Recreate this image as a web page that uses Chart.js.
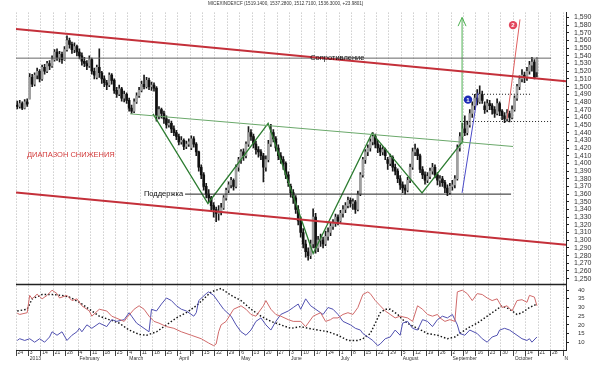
<!DOCTYPE html>
<html>
<head>
<meta charset="utf-8">
<script src="https://cdn.jsdelivr.net/npm/chart.js@4"></script>
<style>
  html, body { margin: 0; padding: 0; background: #fff; }
  canvas { display: block; }
</style>
</head>
<body>
<canvas id="chart" width="600" height="368"></canvas>
<script>
// MICEX index, daily candles: [open, high, low, close]
const ohlc = [
  [1476,1481,1471,1474],[1474,1482,1472,1478],[1478,1480,1470,1472],[1472,1483,1471,1480],[1480,1484,1474,1477],
  [1484,1517,1484,1512],[1512,1516,1500,1503],[1503,1518,1501,1515],[1515,1524,1510,1520],[1520,1522,1506,1510],
  [1510,1528,1508,1525],[1525,1529,1516,1520],[1520,1533,1518,1530],[1530,1534,1522,1527],[1527,1540,1525,1535],
  [1535,1548,1533,1545],[1545,1549,1534,1538],[1538,1546,1532,1542],[1542,1545,1530,1535],[1535,1552,1534,1548],
  [1548,1566,1546,1560],[1560,1563,1550,1555],[1555,1558,1543,1548],[1548,1557,1544,1552],[1552,1554,1540,1545],
  [1545,1549,1536,1540],[1540,1544,1528,1533],[1533,1538,1526,1530],[1530,1534,1522,1527],[1527,1540,1525,1535],
  [1535,1537,1516,1520],[1520,1524,1510,1515],[1512,1528,1510,1525],[1525,1549,1512,1518],
  [1518,1520,1504,1510],[1510,1514,1500,1505],[1505,1508,1496,1502],[1502,1518,1500,1515],[1515,1517,1503,1508],
  [1508,1510,1491,1495],[1495,1499,1486,1490],[1490,1502,1488,1497],[1497,1499,1481,1485],[1485,1494,1480,1490],
  [1490,1492,1478,1482],[1482,1485,1468,1472],[1472,1476,1465,1468],[1468,1484,1466,1480],[1480,1492,1478,1488],
  [1488,1499,1486,1495],[1495,1507,1493,1503],[1503,1515,1497,1500],[1500,1512,1498,1508],[1508,1511,1496,1500],
  [1500,1506,1495,1502],[1502,1505,1494,1498],[1498,1500,1455,1462],[1462,1474,1458,1470],[1470,1472,1459,1465],
  [1465,1468,1452,1458],[1458,1462,1446,1450],[1450,1457,1447,1452],[1452,1455,1440,1445],[1445,1449,1436,1440],
  [1440,1443,1431,1435],[1435,1438,1424,1428],[1428,1435,1425,1430],[1430,1432,1418,1422],[1422,1429,1419,1425],
  [1425,1432,1422,1428],[1420,1436,1418,1432],[1432,1435,1421,1425],[1425,1427,1410,1415],
  [1415,1416,1390,1395],[1395,1398,1380,1385],[1385,1388,1365,1370],[1370,1374,1355,1360],[1360,1366,1350,1355],
  [1355,1357,1338,1345],[1345,1349,1330,1340],[1340,1343,1324,1335],[1335,1345,1326,1338],[1338,1348,1333,1342],
  [1342,1358,1340,1355],[1355,1368,1352,1365],[1365,1376,1362,1372],[1372,1382,1368,1378],[1378,1380,1365,1370],
  [1370,1398,1368,1395],[1395,1408,1390,1405],[1405,1418,1400,1415],[1415,1419,1404,1410],[1410,1428,1407,1425],
  [1425,1448,1422,1440],[1440,1444,1430,1435],[1435,1438,1420,1425],[1425,1429,1412,1418],[1418,1422,1408,1415],
  [1415,1418,1405,1410],[1410,1413,1376,1395],[1395,1410,1390,1405],[1405,1430,1402,1425],[1425,1451,1422,1440],
  [1440,1444,1428,1432],[1432,1435,1416,1420],[1420,1424,1405,1410],[1410,1414,1400,1405],[1405,1409,1392,1400],
  [1400,1402,1380,1385],[1385,1389,1370,1375],[1370,1373,1356,1362],[1362,1366,1348,1355],
  [1355,1358,1335,1340],[1340,1345,1320,1325],[1325,1330,1304,1310],[1310,1315,1290,1295],[1295,1300,1278,1285],
  [1285,1290,1274,1280],[1280,1300,1276,1295],[1295,1341,1290,1330],[1330,1335,1283,1290],[1290,1305,1285,1300],
  [1300,1308,1292,1300],[1300,1304,1290,1295],[1295,1312,1293,1305],[1305,1316,1300,1310],[1310,1322,1306,1318],
  [1318,1327,1314,1322],[1322,1334,1318,1330],[1330,1333,1320,1325],[1325,1339,1323,1335],[1335,1345,1330,1340],
  [1340,1349,1336,1345],[1345,1356,1342,1352],[1352,1355,1343,1348],[1348,1354,1340,1350],[1350,1352,1335,1340],
  [1340,1364,1338,1360],[1360,1388,1358,1385],[1385,1408,1382,1405],[1405,1418,1400,1415],[1415,1424,1410,1420],
  [1420,1432,1416,1428],[1428,1440,1424,1435],[1435,1438,1420,1425],[1425,1430,1414,1420],[1420,1424,1410,1415],
  [1415,1422,1411,1418],[1418,1420,1405,1410],[1405,1408,1392,1400],[1400,1412,1397,1408],
  [1408,1410,1390,1395],[1395,1399,1385,1390],[1390,1393,1375,1380],[1380,1384,1366,1372],[1372,1376,1362,1368],
  [1368,1372,1360,1365],[1365,1382,1363,1378],[1378,1399,1375,1395],[1395,1420,1392,1415],[1415,1425,1410,1418],
  [1418,1420,1405,1410],[1410,1412,1388,1392],[1392,1396,1380,1385],[1385,1389,1373,1378],[1378,1388,1375,1383],
  [1383,1394,1380,1390],[1390,1400,1386,1395],[1395,1398,1381,1385],[1385,1388,1372,1378],[1378,1384,1370,1380],
  [1380,1383,1370,1375],[1375,1378,1362,1368],[1368,1372,1358,1362],[1362,1374,1360,1370],[1370,1378,1365,1372],
  [1372,1384,1368,1380],[1380,1424,1378,1420],[1420,1440,1416,1435],[1435,1452,1430,1445],[1445,1462,1436,1440],
  [1440,1455,1437,1450],[1450,1470,1447,1465],[1465,1480,1460,1475],[1475,1490,1470,1485],[1485,1496,1476,1480],
  [1480,1501,1478,1490],[1490,1494,1478,1482],[1475,1480,1465,1470],[1470,1483,1467,1478],
  [1478,1482,1470,1475],[1475,1478,1464,1470],[1470,1474,1460,1465],[1465,1484,1463,1478],[1478,1480,1462,1468],
  [1468,1470,1457,1462],[1462,1466,1453,1458],[1458,1470,1455,1465],[1465,1468,1454,1460],[1460,1475,1458,1470],
  [1470,1488,1468,1485],[1485,1503,1482,1500],[1500,1514,1496,1510],[1510,1522,1506,1515],[1515,1519,1505,1512],
  [1512,1525,1508,1520],[1520,1533,1516,1528],[1528,1538,1520,1532],[1532,1535,1510,1512],[1519.14,1537.28,1512.71,1536.30]
];

// weekly axis labels (first trading day of each week), month names under them
const weekLabels = ['24','3','14','21','28','4','11','18','25','4','11','18','25','1','8','15','22','29','6','13',
  '20','27','3','10','17','24','1','8','15','22','29','5','12','19','26','2','9','16','23','30','7','14','21','28',''];
const monthLabels = {1:'2013', 5:'February', 9:'March', 13:'April', 18:'May', 22:'June', 26:'July',
  31:'August', 35:'September', 40:'October', 44:'N'};

// DMI indicator, [trading day, value]
const diPlus = [[0,26.7],[1,26],[4,27],[5,37],[6,35],[8,37.7],[10,35],[12,37],[14,40],[16,38],[17,35.5],[20,37],
  [22,34],[24,35],[26,31],[29,28],[30,25],[33,29],[36,28],[38,25],[43,22],[44,24],[47,29],[49,31],[51,29],[53,25],
  [55,22],[57,21],[60,19],[63,18],[66,16],[70,14],[74,12],[77,9.5],[79,8],[80,9],[81,16],[82,20],[84,22],[87,29],
  [90,31],[92,29],[94,26],[96,25],[99,31],[100,34],[102,29],[104,26],[106,25],[109,23],[111,22],[114,22],[116,19],
  [117,21],[119,25],[122,27],[124,22],[126,23],[127,24],[129,24],[131,26],[133,27],[135,26],[137,30],[139,37.5],
  [141,39],[142,38],[144,34],[146,31],[148,28],[150,26],[152,24],[154,25],[157,24],[159,22],[161,31],[163,29],
  [165,26],[167,25],[169,26],[170,24],[172,22],[174,23],[176,22],[177,39],[179,40],[181,38],[183,34],[185,38],
  [187,37.5],[189,35.5],[191,34],[193,35],[195,30],[197,31],[199,28],[201,34],[203,34.5],[205,33],[206,37],
  [208,36],[209,31]];
const diMinus = [[0,11],[1,12],[3,11],[5,12],[7,10],[9,12],[11,10],[13,13],[14,16],[16,14],[18,16],[20,11],[22,14],
  [24,16],[25,18],[26,16],[28,20],[30,18],[33,21],[36,19],[38,23],[40,22],[43,23],[45,27],[46,25],[48,21],[51,18],
  [53,16],[54,29],[56,28],[58,32],[60,35.5],[62,34],[64,31],[66,29],[68,28],[71,25],[72,27],[73,34],[76,38],[77,39],
  [79,37],[81,33],[83,29],[86,25],[88,20],[90,16],[92,14],[94,17],[96,22],[98,24],[100,20],[102,17],[104,22],
  [106,26],[109,28],[111,30],[113,32],[114,29],[116,35],[118,31],[121,28],[123,26],[125,30],[127,29],[129,26],
  [131,22],[134,20],[136,18],[138,17],[139,15],[141,13],[143,11],[145,8],[146,9],[148,12],[150,13],[152,17],
  [154,14],[155,21],[157,22],[159,18],[161,17],[163,23],[165,22],[167,19],[169,23],[171,25],[173,24],[175,26],
  [177,20],[178,15],[180,14],[182,17],[185,15],[187,12],[189,10],[191,13],[193,14],[194,17],[196,18],[198,17],
  [201,14],[203,12],[205,11],[206,12],[207,10],[209,13]];
const adx = [[0,28],[4,29],[6,35],[10,37.5],[14,37.5],[18,37],[21,36],[25,33],[29,29],[33,25],[37,23],[41,21],
  [45,17],[49,14.5],[52,14],[56,16],[60,20],[64,24],[68,27],[72,31],[75,35],[78,39],[82,41],[86,37],[90,34],[94,29],
  [98,25],[102,22],[106,20],[110,18],[114,19],[117,18],[121,17],[125,16],[129,14],[133,11],[137,11],[139,12],
  [142,15],[144,21],[146,27],[148,29],[150,29],[153,26],[155,23],[158,20],[161,18],[165,15],[169,14],[173,12],
  [176,13],[178,15],[181,18],[185,21],[189,25],[193,29],[195,31],[198,29],[201,26],[203,27],[206,30],[209,32]];

// drawn analysis lines, [trading day, price]
const upperChannel = [[-0.5,1575],[220.7,1507]];
const lowerChannel = [[-0.5,1362],[220.7,1294]];
const resistance = [[-0.5,1537],[214.7,1537]];
const support = [[67.5,1360],[198.6,1360]];
const neckline = [[45.4,1464.5],[199.4,1422]];
const zigzag = [[54.6,1464.5],[76.7,1347.8],[100.9,1452],[119,1282.6],[142.7,1439.4],[162.8,1361.6],[179.3,1429.3]];
const targetArrow = [[178.9,1425],[178.9,1590]];
const arrowHead = [[177.3,1578.7],[178.9,1590],[180.5,1578.7]];
const blueTrend = [[178.9,1361.6],[185.3,1492]];
const redTrend = [[197,1458],[202.2,1587.5]];
const rangeTop = [[182.9,1490],[206.3,1490]];
const rangeBottom = [[178.1,1454.5],[214.7,1454.5]];

const title = 'MICEXINDEXCF (1519.1400, 1537.2800, 1512.7100, 1536.3000, +23.9801)';
const notes = [
  {text: 'ДИАПАЗОН СНИЖЕНИЯ', day: 3.9, price: 1410.6, color: '#d23a3a', align: 'left'},
  {text: 'Поддержка', day: 66.7, price: 1360, color: '#111', align: 'right'},
  {text: 'Сопротивление', day: 117.8, price: 1537, color: '#111', align: 'left'}
];
const markers = [
  {text: '1', day: 181.3, price: 1483, color: '#1c2bb4'},
  {text: '2', day: 199.4, price: 1580, color: '#e2465c'}
];

Chart.defaults.font.family = 'Arial, "Liberation Sans", sans-serif';

function line(points, color, width, yAxisID, dash) {
    return {
        type: 'line',
        yAxisID: yAxisID,
        data: points.map(p => ({x: p[0], y: p[1]})),
        borderColor: color,
        borderWidth: width,
        borderDash: dash || [],
        pointRadius: 0,
        tension: 0,
        order: 0
    };
}

// panel separator, text notes, numbered markers and the title line
const extras = {
    id: 'extras',
    afterDatasetsDraw(chart) {
        const {ctx, chartArea} = chart;
        const x = chart.scales.x, y = chart.scales.y, y2 = chart.scales.y2;
        ctx.save();
        ctx.strokeStyle = '#222';
        ctx.lineWidth = 1.5;
        ctx.beginPath();
        ctx.moveTo(chartArea.left, y2.top);
        ctx.lineTo(chartArea.right, y2.top);
        ctx.stroke();

        ctx.textBaseline = 'middle';
        ctx.font = '7.5px Arial, "Liberation Sans", sans-serif';
        for (const n of notes) {
            ctx.fillStyle = n.color;
            ctx.textAlign = n.align;
            ctx.fillText(n.text, x.getPixelForValue(n.day), y.getPixelForValue(n.price));
        }

        ctx.font = 'bold 6px Arial, "Liberation Sans", sans-serif';
        ctx.textAlign = 'center';
        for (const m of markers) {
            const px = x.getPixelForValue(m.day), py = y.getPixelForValue(m.price);
            ctx.fillStyle = m.color;
            ctx.beginPath();
            ctx.arc(px, py, 4.2, 0, Math.PI * 2);
            ctx.fill();
            ctx.fillStyle = '#fff';
            ctx.fillText(m.text, px, py + 0.5);
        }

        ctx.font = '4.6px Arial, "Liberation Sans", sans-serif';
        ctx.fillStyle = '#333';
        ctx.textAlign = 'left';
        ctx.fillText(title, 208, 4);
        ctx.restore();
    }
};

const up = ohlc.map(c => c[3] >= c[0]);

new Chart(document.getElementById('chart'), {
    type: 'bar',
    data: {
        datasets: [
            line(upperChannel, '#c4303a', 2, 'y'),
            line(lowerChannel, '#c4303a', 2, 'y'),
            line(resistance, '#666', 1, 'y'),
            line(support, '#222', 1, 'y'),
            line(neckline, '#6aa86a', 1, 'y'),
            line(zigzag, '#2e7d32', 1.3, 'y'),
            line(targetArrow, '#4caf50', 1, 'y'),
            line(arrowHead, '#4caf50', 1, 'y'),
            line(blueTrend, '#4a4ac8', 1, 'y'),
            line(redTrend, '#e06060', 1, 'y'),
            line(rangeTop, '#222', 1, 'y', [1, 2]),
            line(rangeBottom, '#222', 1, 'y', [1, 2]),
            line(diPlus, '#d06a6a', 1, 'y2'),
            line(diMinus, '#5050b0', 1, 'y2'),
            line(adx, '#111', 1.4, 'y2', [1.5, 2]),
            {
                type: 'bar', yAxisID: 'y', grouped: false, order: 2,
                data: ohlc.map((c, i) => ({x: i, y: [c[2], c[1]]})),
                backgroundColor: '#1a1a1a',
                barThickness: 1
            },
            {
                type: 'bar', yAxisID: 'y', grouped: false, order: 1,
                data: ohlc.map((c, i) => ({x: i, y: [c[0], c[3]]})),
                backgroundColor: up.map(u => u ? '#a0a0a0' : '#111'),
                borderWidth: 0,
                barThickness: 2,
                minBarLength: 1
            }
        ]
    },
    options: {
        responsive: false,
        animation: false,
        devicePixelRatio: 1,
        layout: { padding: { left: 16, right: 0, top: 0, bottom: 0 } },
        plugins: {
            legend: { display: false },
            tooltip: { enabled: false }
        },
        scales: {
            x: {
                type: 'linear',
                min: -0.5,
                max: 220.7,
                offset: false,
                afterBuildTicks: s => { s.ticks = weekLabels.map((l, i) => ({value: i * 5 - 0.5})); },
                afterFit: s => { s.height = 18; },
                grid: { color: '#b4b4b4', offset: false, tickLength: 6, tickColor: '#444', tickBorderDash: [] },
                border: { display: true, color: '#222', dash: [1, 2] },
                ticks: {
                    autoSkip: false,
                    maxRotation: 0,
                    align: 'start',
                    padding: -6,
                    color: '#333',
                    font: { size: 5 },
                    callback: (v, i) => monthLabels[i] ? [' ' + weekLabels[i], ' ' + monthLabels[i]] : ' ' + weekLabels[i]
                }
            },
            y: {
                position: 'right',
                stack: 'panels',
                stackWeight: 282,
                min: 1242.4,
                max: 1596.3,
                afterBuildTicks: s => {
                    const t = [];
                    for (let v = 1250; v <= 1590; v += 10) t.push({value: v});
                    s.ticks = t;
                },
                afterFit: s => { s.width = 34; },
                grid: { drawOnChartArea: false, tickLength: 3, tickColor: '#222' },
                border: { display: true, color: '#222' },
                ticks: { autoSkip: false, padding: 5, color: '#333', font: { size: 7 } }
            },
            y2: {
                position: 'right',
                stack: 'panels',
                stackWeight: 68,
                min: 5.5,
                max: 43.3,
                afterBuildTicks: s => {
                    const t = [];
                    for (let v = 10; v <= 40; v += 5) t.push({value: v});
                    s.ticks = t;
                },
                afterFit: s => { s.width = 34; },
                grid: { drawOnChartArea: false, tickLength: 3, tickColor: '#222' },
                border: { display: true, color: '#222' },
                ticks: { autoSkip: false, padding: 9, color: '#333', font: { size: 6 } }
            }
        }
    },
    plugins: [extras]
});
</script>
</body>
</html>
